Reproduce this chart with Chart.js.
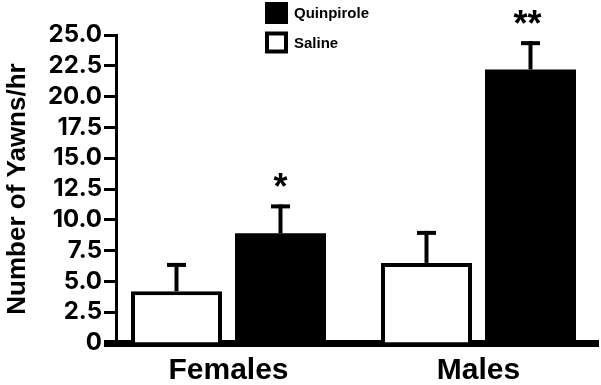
<!DOCTYPE html>
<html>
<head>
<meta charset="utf-8">
<script src="https://cdn.jsdelivr.net/npm/chart.js@4/dist/chart.umd.min.js"></script>
<style>
  html, body { margin: 0; padding: 0; background: #fff; }
  #wrap { width: 601px; height: 385px; position: relative; }
</style>
</head>
<body>
<div id="wrap"><canvas id="c" width="601" height="385"></canvas></div>
<script>
// ---- data ----
const categories = ['Females', 'Males'];
const seriesNames = ['Saline', 'Quinpirole'];
const salineMeans = [4.2, 6.5];
const salineErrors = [2.3, 2.6];
const quinpiroleMeans = [8.9, 22.2];
const quinpiroleErrors = [2.35, 2.3];
const salineSig = ['', ''];
const quinpiroleSig = ['*', '**'];
const yTickLabels = ['0', '2.5', '5.0', '7.5', '10.0', '12.5', '15.0', '17.5', '20.0', '22.5', '25.0'];
const yTitle = 'Number of Yawns/hr';

const toPoints = (vals) => categories.map((c, i) => ({ x: i, y: vals[i] }));

const errorBarPlugin = {
  id: 'errorBars',
  afterDatasetsDraw(chart) {
    const ctx = chart.ctx;
    const yScale = chart.scales.y;
    chart.data.datasets.forEach((ds, di) => {
      const meta = chart.getDatasetMeta(di);
      meta.data.forEach((bar, i) => {
        const v = ds.data[i].y;
        const e = ds.errors[i];
        const top = yScale.getPixelForValue(v + e);
        ctx.save();
        ctx.strokeStyle = '#000';
        ctx.lineWidth = 4;
        ctx.lineCap = 'butt';
        ctx.beginPath();
        ctx.moveTo(bar.x, bar.y);
        ctx.lineTo(bar.x, top);
        ctx.stroke();
        ctx.beginPath();
        ctx.moveTo(bar.x - 9.5, top + 2);
        ctx.lineTo(bar.x + 9.5, top + 2);
        ctx.stroke();
        const s = ds.sig[i];
        if (s) {
          ctx.font = 'bold 36px "Liberation Sans", Arial, sans-serif';
          ctx.textAlign = 'center';
          ctx.textBaseline = 'alphabetic';
          ctx.fillStyle = '#000';
          ctx.fillText(s, bar.x - (s.length > 1 ? 3 : 0), top - 5);
        }
        ctx.restore();
      });
    });
  }
};

const legendPlugin = {
  id: 'cornerLegend',
  afterDraw(chart) {
    const ctx = chart.ctx;
    const items = chart.data.datasets.slice().reverse();
    items.forEach((ds, k) => {
      const bx = 265, by = 2 + k * 29.5, w = 23, h = 22;
      ctx.save();
      ctx.fillStyle = ds.backgroundColor;
      ctx.fillRect(bx, by, w, h);
      if (ds.borderWidth) {
        ctx.strokeStyle = ds.borderColor;
        ctx.lineWidth = ds.borderWidth;
        ctx.strokeRect(bx + ds.borderWidth / 2, by + ds.borderWidth / 2, w - ds.borderWidth, h - ds.borderWidth);
      }
      ctx.fillStyle = '#000';
      ctx.font = 'bold 15px "Liberation Sans", Arial, sans-serif';
      ctx.textAlign = 'left';
      ctx.textBaseline = 'middle';
      ctx.fillText(ds.label, 294, by + h / 2 + 1);
      ctx.restore();
    });
  }
};

new Chart(document.getElementById('c'), {
  type: 'bar',
  data: {
    datasets: [
      {
        label: seriesNames[0],
        data: toPoints(salineMeans),
        errors: salineErrors,
        sig: salineSig,
        backgroundColor: '#ffffff',
        borderColor: '#000000',
        borderWidth: 4,
        borderSkipped: 'bottom',
        categoryPercentage: 0.832,
        barPercentage: 0.875
      },
      {
        label: seriesNames[1],
        data: toPoints(quinpiroleMeans),
        errors: quinpiroleErrors,
        sig: quinpiroleSig,
        backgroundColor: '#000000',
        borderColor: '#000000',
        borderWidth: 0,
        categoryPercentage: 0.832,
        barPercentage: 0.875
      }
    ]
  },
  options: {
    responsive: false,
    animation: false,
    devicePixelRatio: 1,
    layout: { padding: { top: 35, right: 3, left: 0, bottom: 0 } },
    plugins: { legend: { display: false }, tooltip: { enabled: false } },
    scales: {
      x: {
        type: 'linear',
        min: -0.45,
        max: 1.478,
        offset: false,
        afterBuildTicks: (s) => { s.ticks = categories.map((c, i) => ({ value: i })); },
        afterFit: (s) => { s.height = 42; },
        ticks: {
          callback: (v) => categories[v],
          font: { family: '"Liberation Sans", Arial, sans-serif', size: 30, weight: 'bold' },
          color: '#000',
          padding: 10,
          maxRotation: 0,
          autoSkip: false
        },
        grid: { drawOnChartArea: false, drawTicks: false },
        border: { display: true, color: '#000', width: 7 }
      },
      y: {
        min: 0,
        max: 25,
        afterFit: (s) => { s.width = 116; },
        ticks: {
          stepSize: 2.5,
          autoSkip: false,
          callback: (v, i) => yTickLabels[i],
          font: { family: 'Inter, "Liberation Sans", sans-serif', size: 24, weight: 'bold' },
          color: '#000',
          padding: 2
        },
        grid: {
          drawOnChartArea: false,
          drawTicks: true,
          tickLength: 12,
          tickColor: '#000',
          tickWidth: (ctx) => (ctx.tick && ctx.tick.value === 0 ? 7 : 3)
        },
        border: { display: true, color: '#000', width: 3 },
        title: {
          display: true,
          text: yTitle,
          color: '#000',
          font: { family: '"Liberation Sans", Arial, sans-serif', size: 26, weight: 'bold' },
          padding: { top: 2, bottom: 0 }
        }
      }
    }
  },
  plugins: [errorBarPlugin, legendPlugin]
});
</script>
</body>
</html>
